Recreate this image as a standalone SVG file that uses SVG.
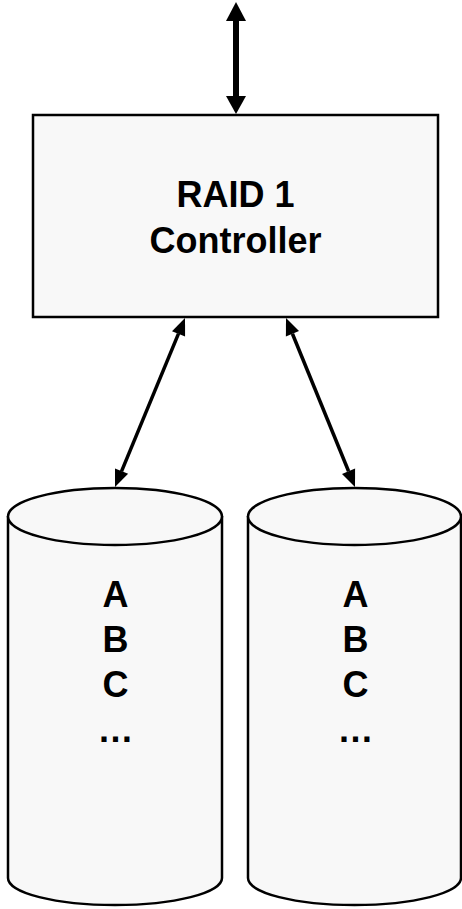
<svg xmlns="http://www.w3.org/2000/svg" width="462" height="909" viewBox="0 0 462 909">
<defs>
<style>
.box{fill:#f8f8f8;stroke:#000;stroke-width:2.5}
.t{font-family:"Liberation Sans",Arial,sans-serif;font-weight:bold;font-size:36px;fill:#000;text-anchor:middle}
.c{stroke:#000;fill:none}
.h{fill:#000;stroke:none}
</style>
</defs>
<g id="connectors">
<line class="c" x1="236" y1="20" x2="236" y2="97" stroke-width="6"/>
<polygon class="h" points="236,2 226,21 246,21"/>
<polygon class="h" points="236,114 226,96 246,96"/>
<line class="c" x1="178.5" y1="333.7" x2="121.5" y2="471.3" stroke-width="3.5"/>
<polygon class="h" points="185,318 185.1,336.6 172,331.2"/>
<polygon class="h" points="115,487 128.1,473.8 115,468.4"/>
<line class="c" x1="292.43" y1="333.74" x2="348.57" y2="471.26" stroke-width="3.5"/>
<polygon class="h" points="286,318 299,331.1 285.9,336.5"/>
<polygon class="h" points="355,487 355.1,468.5 342,473.9"/>
</g>
<g id="controller">
<rect class="box" x="33" y="115" width="405" height="202"/>
<text class="t" x="235.5" y="207">RAID 1</text>
<text class="t" x="235.5" y="253">Controller</text>
</g>
<g id="disk1">
<path class="box" d="M8,516 L8,878 A107,27 0 0 0 222,878 L222,516"/>
<ellipse class="box" cx="115" cy="516.5" rx="107" ry="28.5"/>
<text class="t" x="115.5" y="607">A</text>
<text class="t" x="115.5" y="652">B</text>
<text class="t" x="115.5" y="697">C</text>
<text class="t" x="115.5" y="742">…</text>
</g>
<g id="disk2">
<path class="box" d="M248,516 L248,878 A106.5,27 0 0 0 461,878 L461,516"/>
<ellipse class="box" cx="354.5" cy="516.5" rx="106.5" ry="28.5"/>
<text class="t" x="355.5" y="607">A</text>
<text class="t" x="355.5" y="652">B</text>
<text class="t" x="355.5" y="697">C</text>
<text class="t" x="355.5" y="742">…</text>
</g>
</svg>
